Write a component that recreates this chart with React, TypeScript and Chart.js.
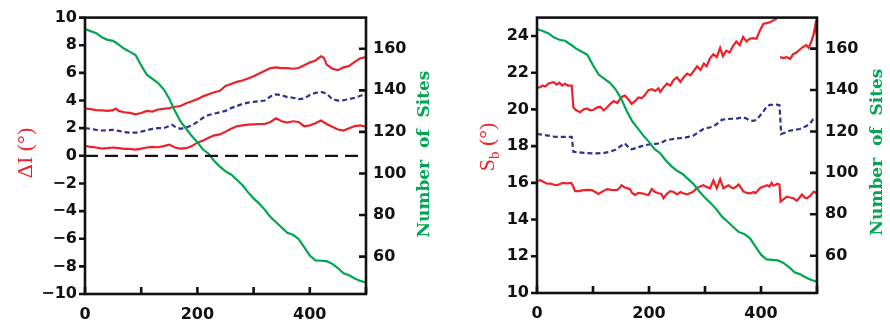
import React, { useEffect, useRef } from 'react';
import { Chart, registerables } from 'chart.js';
Chart.register(...registerables);

const RED = '#ED2228';
const BLUE = '#2E3192';
const GREEN = '#00A651';
const BLACK = '#111111';

// ---- shared: number of sites ----
const siteX = [0,10,20,30,40,50,60,70,80,90,100,110,120,130,140,150,160,170,180,190,200,210,220,230,240,250,260,270,280,290,300,310,320,330,340,350,360,370,380,390,400,410,420,430,440,450,460,470,480,490,500];
const siteN = [169.5,168.5,167.5,165.5,164.3,163.8,162,160,158.5,157,152,147.5,145.5,143.5,140.5,136,130,125,121.5,118,115,111.5,109.5,106,103.3,101,99.5,97,94.5,91,88,85.5,82.5,79,76.5,74,71.5,70.5,68.5,64.5,60.5,58.2,58,57.8,56.5,54.5,52,51,49.5,48.3,47.5];

// ---- left panel: delta I ----
const dIUpperX = [0,10,20,30,40,50,55,60,70,80,90,100,110,120,130,140,150,160,170,180,190,200,210,220,230,240,250,260,270,280,290,300,310,320,330,340,350,360,370,380,390,400,410,420,425,430,440,450,460,470,480,490,500];
const dIUpper = [3.43,3.38,3.3,3.28,3.25,3.3,3.42,3.25,3.15,3.1,3.0,3.1,3.25,3.2,3.35,3.4,3.45,3.55,3.6,3.8,3.95,4.1,4.3,4.45,4.6,4.7,5.05,5.2,5.35,5.45,5.6,5.75,5.95,6.15,6.35,6.4,6.35,6.35,6.3,6.35,6.55,6.75,6.9,7.2,7.1,6.6,6.3,6.2,6.4,6.5,6.8,7.05,7.15];

const dIMeanX = [0,10,20,30,40,50,60,70,80,90,100,110,120,130,140,150,155,160,170,180,190,200,210,220,230,240,250,260,270,280,290,300,310,320,330,340,350,360,370,380,390,400,410,420,430,440,450,460,470,480,490,500];
const dIMean = [2.0,1.95,1.88,1.83,1.85,1.88,1.8,1.72,1.68,1.67,1.75,1.85,1.95,2.0,2.0,2.15,2.25,2.1,1.95,2.05,2.2,2.45,2.75,2.95,3.05,3.15,3.25,3.45,3.6,3.75,3.85,3.9,3.95,4.0,4.3,4.45,4.38,4.25,4.2,4.1,4.15,4.4,4.55,4.62,4.5,4.1,4.0,4.02,4.1,4.2,4.35,4.45];

const dILowerX = [0,10,20,30,40,50,60,70,80,90,100,110,120,130,140,150,160,170,180,190,200,210,220,230,240,250,260,270,280,290,300,310,320,330,340,350,360,370,380,390,400,410,420,430,440,450,460,470,480,490,500];
const dILower = [0.71,0.65,0.6,0.52,0.55,0.6,0.55,0.5,0.5,0.45,0.52,0.6,0.64,0.62,0.7,0.81,0.6,0.52,0.55,0.7,0.95,1.1,1.3,1.48,1.55,1.75,1.95,2.14,2.2,2.26,2.28,2.3,2.3,2.45,2.71,2.5,2.4,2.5,2.45,2.14,2.2,2.35,2.55,2.3,2.1,1.9,1.83,2.0,2.15,2.2,2.1];

const zeroX = [0, 500];
const zeroY = [0, 0];

// ---- right panel: S_b ----
const sbUpperX = [0,5,10,15,20,25,30,35,40,45,50,55,62,65,70,77,83,89,95,101,107,113,119,125,131,137,143,148,153,157,163,169,175,181,187,193,199,205,211,217,220,226,232,238,244,250,256,262,268,274,280,286,292,298,303,309,315,321,327,332,338,344,350,356,362,368,374,380,386,392,398,404,410,416,422,428,431,434,440,446,452,457,463,469,475,481,485,490,494,497,500];
const sbUpper = [21.2,21.2,21.3,21.25,21.4,21.45,21.48,21.35,21.45,21.3,21.4,21.3,21.3,20.1,19.95,19.85,20.0,20.05,19.95,19.98,20.1,20.15,19.95,20.1,20.3,20.45,20.35,20.55,20.7,20.75,20.55,20.3,20.45,20.65,20.6,20.8,21.05,21.1,21.0,21.15,20.95,21.2,21.4,21.3,21.6,21.75,21.5,21.75,21.95,21.85,22.1,22.35,22.15,22.5,22.35,22.8,23.0,22.85,23.35,22.9,23.2,23.1,23.45,23.7,23.5,23.95,23.7,23.85,23.88,23.85,24.3,24.65,24.7,24.75,24.85,24.95,null,22.85,22.8,22.85,22.75,23.0,23.1,23.25,23.4,23.5,23.35,23.7,24.1,24.6,24.0];

const sbMeanX = [0,10,20,30,40,50,62,65,75,90,107,120,131,140,148,157,163,169,177,184,193,202,211,220,229,238,250,262,270,279,288,297,306,315,323,330,337,344,356,368,374,380,386,392,398,404,410,416,428,433,436,445,451,460,469,475,481,487,493,500];
const sbMean = [18.66,18.62,18.57,18.52,18.5,18.5,18.5,17.69,17.66,17.62,17.6,17.63,17.7,17.8,17.97,18.15,17.95,17.83,17.9,17.97,18.05,18.1,18.12,18.15,18.3,18.36,18.42,18.45,18.5,18.57,18.75,18.93,19.0,19.07,19.25,19.43,19.47,19.48,19.5,19.57,19.5,19.39,19.38,19.43,19.65,19.87,20.15,20.25,20.26,20.23,18.66,18.75,18.84,18.88,18.93,19.0,19.1,19.2,19.46,19.5];

const sbLowerX = [0,6,12,18,24,30,36,42,47,54,61,64,68,75,83,90,98,104,110,118,125,133,143,147,151,157,162,166,170,175,181,187,193,199,205,211,217,222,226,232,238,244,250,256,262,268,274,279,285,291,297,303,309,315,321,327,333,338,342,347,351,356,360,365,369,375,381,387,390,395,399,405,411,415,419,422,425,429,433,435,440,446,452,458,464,469,473,478,482,488,494,500];
const sbLower = [16.1,16.14,16.05,15.95,15.96,15.9,15.87,15.95,16.0,15.97,16.0,15.85,15.55,15.55,15.6,15.62,15.6,15.5,15.39,15.55,15.66,15.62,15.6,15.7,15.87,15.75,15.7,15.66,15.45,15.34,15.45,15.43,15.38,15.34,15.66,15.5,15.43,15.4,15.16,15.4,15.55,15.5,15.37,15.5,15.42,15.37,15.45,15.52,15.7,15.8,15.87,15.78,15.7,16.14,15.7,16.2,15.7,15.8,15.87,15.75,15.7,15.8,15.91,15.7,15.52,15.45,15.43,15.5,15.43,15.6,15.73,15.8,15.87,15.8,16.0,15.85,15.87,15.95,15.91,14.98,15.1,15.25,15.2,15.16,15.02,15.2,15.37,15.2,15.16,15.3,15.52,15.43];

// ---- ticks ----
const xTicks = [0, 100, 200, 300, 400, 500];
const xLabels = [0, 200, 400];
const dITicks = [-10, -8, -6, -4, -2, 0, 2, 4, 6, 8, 10];
const sbTicks = [10, 12, 14, 16, 18, 20, 22, 24];
const siteTicks = [60, 80, 100, 120, 140, 160];

const TICK_FONT = { family: '"DejaVu Sans", sans-serif', size: 16, weight: 'bold' as const };

function zip(xs: number[], ys: (number | null)[]) {
  return xs.map((x, i) => ({ x, y: ys[i] }));
}

type PanelSpec = {
  leftW: number; rightW: number; bottomH: number; top: number;
  leftMin: number; leftMax: number; leftTicks: number[];
  rightPad: number;
  datasets: any[];
  drawLeftTitle: (ctx: CanvasRenderingContext2D) => void;
  siteTitlePos: [number, number];
};

function buildConfig(spec: PanelSpec): any {
  const framePlugin = {
    id: 'frameAndTitles',
    afterDraw(chart: any) {
      const ctx: CanvasRenderingContext2D = chart.ctx;
      const a = chart.chartArea;
      const xs = chart.scales.x;
      const yl = chart.scales.y;
      const yr = chart.scales.n;
      ctx.save();
      ctx.strokeStyle = BLACK;
      ctx.lineWidth = 2.6;
      ctx.lineCap = 'butt';
      ctx.strokeRect(a.left, a.top, a.right - a.left, a.bottom - a.top);
      ctx.beginPath();
      // x ticks inward
      xTicks.forEach((v) => {
        const px = xs.getPixelForValue(v);
        ctx.moveTo(px, a.bottom);
        ctx.lineTo(px, a.bottom - 7);
      });
      // left ticks outward
      spec.leftTicks.forEach((v) => {
        const py = yl.getPixelForValue(v);
        ctx.moveTo(a.left, py);
        ctx.lineTo(a.left - 6, py);
      });
      // right ticks inward
      siteTicks.forEach((v) => {
        const py = yr.getPixelForValue(v);
        ctx.moveTo(a.right, py);
        ctx.lineTo(a.right - 7, py);
      });
      ctx.stroke();
      // titles
      spec.drawLeftTitle(ctx);
      ctx.save();
      ctx.translate(spec.siteTitlePos[0], spec.siteTitlePos[1]);
      ctx.rotate(-Math.PI / 2);
      ctx.fillStyle = GREEN;
      ctx.font = 'bold 17px "DejaVu Serif", serif';
      ctx.textAlign = 'center';
      ctx.textBaseline = 'middle';
      ctx.fillText('Number  of  Sites', 0, 0);
      ctx.restore();
      ctx.restore();
    },
  };

  return {
    type: 'line',
    data: { datasets: spec.datasets },
    options: {
      responsive: false,
      animation: false,
      devicePixelRatio: 1,
      layout: { padding: { top: spec.top, left: 0, right: 0, bottom: 0 } },
      plugins: { legend: { display: false }, tooltip: { enabled: false } },
      elements: { point: { radius: 0 }, line: { tension: 0 } },
      scales: {
        x: {
          type: 'linear', min: 0, max: 500,
          grid: { display: false, drawTicks: false },
          border: { display: false },
          afterFit: (s: any) => { s.height = spec.bottomH; },
          afterBuildTicks: (s: any) => { s.ticks = xTicks.map((v) => ({ value: v })); },
          ticks: {
            autoSkip: false, maxRotation: 0, padding: 11, color: BLACK, font: TICK_FONT,
            callback: (v: any) => (xLabels.includes(Number(v)) ? String(v) : ''),
          },
        },
        y: {
          type: 'linear', position: 'left', min: spec.leftMin, max: spec.leftMax,
          grid: { display: false, drawTicks: false },
          border: { display: false },
          afterFit: (s: any) => { s.width = spec.leftW; },
          afterBuildTicks: (s: any) => { s.ticks = spec.leftTicks.map((v) => ({ value: v })); },
          ticks: {
            autoSkip: false, padding: 8, color: BLACK, font: TICK_FONT,
            callback: (v: any) => String(v).replace('-', '\u2212'),
          },
        },
        n: {
          type: 'linear', position: 'right', min: 42, max: 175,
          grid: { display: false, drawTicks: false },
          border: { display: false },
          afterFit: (s: any) => { s.width = spec.rightW; },
          afterBuildTicks: (s: any) => { s.ticks = siteTicks.map((v) => ({ value: v })); },
          ticks: { autoSkip: false, padding: spec.rightPad, color: BLACK, font: TICK_FONT },
        },
      },
    },
    plugins: [framePlugin],
  };
}

function line(data: any[], color: string, axis: string, dash: number[] = [], width = 2.2) {
  return {
    data, borderColor: color, borderWidth: width, borderDash: dash, yAxisID: axis,
    pointRadius: 0, fill: false, spanGaps: false, borderCapStyle: 'butt',
  };
}

const leftSpec: PanelSpec = {
  leftW: 85, rightW: 79, bottomH: 35, top: 14,
  leftMin: -10, leftMax: 10, leftTicks: dITicks, rightPad: 7,
  datasets: [
    line(zip(zeroX, zeroY), BLACK, 'y', [13, 7], 2.2),
    line(zip(siteX, siteN), GREEN, 'n'),
    line(zip(dIUpperX, dIUpper), RED, 'y'),
    line(zip(dIMeanX, dIMean), BLUE, 'y', [5, 3]),
    line(zip(dILowerX, dILower), RED, 'y'),
  ],
  drawLeftTitle: (ctx) => {
    ctx.save();
    ctx.translate(25, 153);
    ctx.rotate(-Math.PI / 2);
    ctx.fillStyle = RED;
    ctx.font = '22px "Liberation Serif", serif';
    ctx.textAlign = 'center';
    ctx.textBaseline = 'alphabetic';
    ctx.fillText('\u0394I (\u00B0)', 0, 7);
    ctx.restore();
  },
  siteTitlePos: [425, 154],
};

const rightSpec: PanelSpec = {
  leftW: 92, rightW: 73, bottomH: 36, top: 12,
  leftMin: 10, leftMax: 25, leftTicks: sbTicks, rightPad: 8,
  datasets: [
    line(zip(siteX, siteN), GREEN, 'n'),
    line(zip(sbUpperX, sbUpper), RED, 'y'),
    line(zip(sbMeanX, sbMean), BLUE, 'y', [5, 3]),
    line(zip(sbLowerX, sbLower), RED, 'y'),
  ],
  drawLeftTitle: (ctx) => {
    ctx.save();
    ctx.translate(42, 147);
    ctx.rotate(-Math.PI / 2);
    ctx.fillStyle = RED;
    const big = '22px "Liberation Serif", serif';
    const small = '15px "Liberation Serif", serif';
    ctx.font = big;
    const wS = ctx.measureText('S').width;
    const wRest = ctx.measureText(' (\u00B0)').width;
    ctx.font = small;
    const wb = ctx.measureText('b').width;
    const total = wS + wb + wRest;
    let x0 = -total / 2;
    ctx.textAlign = 'left';
    ctx.textBaseline = 'alphabetic';
    ctx.font = big;
    ctx.fillText('S', x0, 7);
    x0 += wS;
    ctx.font = small;
    ctx.fillText('b', x0, 12);
    x0 += wb;
    ctx.font = big;
    ctx.fillText(' (\u00B0)', x0, 7);
    ctx.restore();
  },
  siteTitlePos: [433, 152],
};

function Panel({ spec }: { spec: PanelSpec }) {
  const ref = useRef<HTMLCanvasElement | null>(null);
  useEffect(() => {
    if (!ref.current) return;
    const chart = new Chart(ref.current, buildConfig(spec));
    return () => chart.destroy();
  }, [spec]);
  return <canvas ref={ref} width={445} height={329} style={{ display: 'block', width: 445, height: 329 }} />;
}

export default function App() {
  return (
    <div style={{ position: 'absolute', left: 0, top: 0, width: 890, height: 329, display: 'flex', background: '#fff' }}>
      <Panel spec={leftSpec} />
      <Panel spec={rightSpec} />
    </div>
  );
}
